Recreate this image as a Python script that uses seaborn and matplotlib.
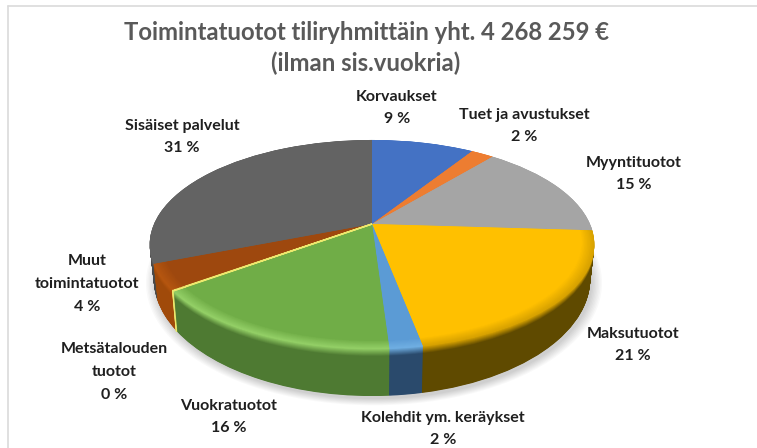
import numpy as np
import matplotlib
matplotlib.use("Agg")
import matplotlib.pyplot as plt
import matplotlib.transforms as mtrans
from matplotlib.colors import to_rgb
from matplotlib.lines import Line2D
import seaborn as sns

categories = ["Korvaukset", "Tuet ja avustukset", "Myyntituotot", "Maksutuotot",
              "Kolehdit ym. keräykset", "Vuokratuotot", "Metsätalouden\ntuotot",
              "Muut\ntoimintatuotot", "Sisäiset palvelut"]
percent = [9, 2, 15, 21, 2, 16, 0, 4, 31]
# slice sizes: the 0 % slice is a hairline in the picture
slice_size = [9, 2, 15, 21, 2, 16, 0.05, 4, 31]
title = "Toimintatuotot tiliryhmittäin yht. 4 268 259 €\n(ilman sis.vuokria)"

face_colors = ["#4472C4", "#ED7D31", "#A5A5A5", "#FFC000", "#5B9BD5",
               "#70AD47", "#EDE96E", "#9E480E", "#636363"]
side_colors = ["#2A4578", "#8F4B1D", "#5C5C5C", "#5F4A00", "#2A4A6C",
               "#4E7A32", "#EDE96E", "#A04A0A", "#4A4A4A"]
rim_colors = ["#4472C4", "#ED7D31", "#A5A5A5", "#D9A300", "#6FAEE2",
              "#93CF66", "#EDE96E", "#B5560F", "#636363"]

label_xy = [(397, 108), (524, 126), (634, 174), (633, 345), (443, 429),
            (229, 417), (114, 372), (87, 284), (182, 137)]

sns.set_theme(style="white")
plt.rcParams["font.family"] = ["Lato", "DejaVu Sans"]

fig = plt.figure(figsize=(7.57, 4.48), dpi=100, facecolor="white")
ax = fig.add_axes([0, 0, 1, 1])


class Perspective(mtrans.Transform):
    """Tilts the unit pie into the picture plane, t = 0 top face, t = 1 bottom."""
    input_dims = output_dims = 2
    is_separable = False
    has_inverse = False

    def __init__(self, t=0.0, grow=1.0, dx=0.0, dy=0.0):
        super().__init__()
        self.t, self.grow, self.dx, self.dy = t, grow, dx, dy

    def transform_non_affine(self, v):
        v = np.asarray(v, dtype=float)
        k = 0.196
        a = (218 + (214 - 218) * self.t) * self.grow
        h = (100.5 + (112.6 - 100.5) * self.t) * self.grow
        y0 = 224 + 32 * self.t
        d = 1 + k * v[:, 1]
        return np.column_stack([372 + self.dx + a * v[:, 0] / d,
                                y0 + self.dy - h * v[:, 1] / d])


def mix(c1, c2, f):
    rgb = (1 - f) * np.array(to_rgb(c1)) + f * np.array(to_rgb(c2))
    return tuple(float(c) for c in np.clip(rgb, 0, 1))


layer = [1.0]


def draw_pie(colors, t=0.0, radius=1.0, alpha=None, values=slice_size, grow=1.0, dx=0.0, dy=0.0,
             hairline=False):
    wedges, _ = ax.pie(values, colors=colors, startangle=90, counterclock=False,
                       radius=radius, frame=True,
                       wedgeprops=dict(linewidth=0, alpha=alpha, antialiased=True))
    tr = Perspective(t, grow, dx, dy) + ax.transData
    layer[0] += 1
    for w in wedges:
        w.set_transform(tr)
        w.set_clip_on(False)
        w.set_zorder(layer[0])
    if hairline:
        # the empty slice only shows as a yellow line
        w = wedges[percent.index(0)]
        w.set_edgecolor(face_colors[percent.index(0)])
        w.set_linewidth(1.1)
        w.set_zorder(layer[0] + 0.5)
    return wedges


# soft shadow under the disc
for g in np.linspace(1.045, 1.0, 8):
    draw_pie(["#000000"], t=1.0, alpha=0.022, values=[1], grow=g, dx=2, dy=3)

# side wall, bottom to top
for t in np.linspace(1, 0.0, 90):
    f = np.clip((0.16 - t) / 0.16, 0, 1)
    draw_pie([mix(s, r, f) for s, r in zip(side_colors, rim_colors)], t=t, hairline=True)

# bevelled rim of the top face
for r in np.linspace(1.0, 0.945, 10):
    f = (1.0 - r) / 0.055
    draw_pie([mix(rc, fc, f) for rc, fc in zip(rim_colors, face_colors)], radius=r, hairline=True)
draw_pie(face_colors, radius=0.945, hairline=True)

ax.set_xlim(0, 757)
ax.set_ylim(448, 0)
ax.set_aspect("auto")
ax.axis("off")

ax.text(366, 48, title, ha="center", va="center", fontsize=17.2, fontweight="bold",
        color="#595959", linespacing=1.4, zorder=500)

ink = "#1f1f1f"
for cat, pct, (x, y) in zip(categories, percent, label_xy):
    ax.text(x, y, f"{cat}\n{pct} %", ha="center", va="center", fontsize=11.5,
            fontweight="bold", color=ink, linespacing=1.8, zorder=500)

# outer frame of the pasted chart
frame = "#DADADA"
fig.add_artist(Line2D([8 / 757, 8 / 757], [0, 1 - 6 / 448], color=frame, lw=1.2))
fig.add_artist(Line2D([8 / 757, 1], [1 - 6 / 448, 1 - 6 / 448], color=frame, lw=1.2))

fig.savefig("out.png", dpi=100, facecolor="white")
